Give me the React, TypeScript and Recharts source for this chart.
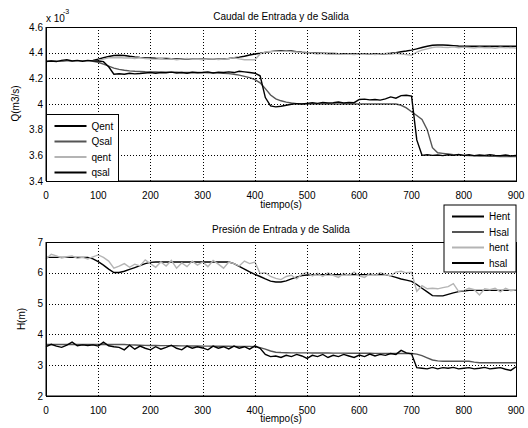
import React from "react";
import { LineChart, Line, XAxis, YAxis } from "recharts";

const tiempo = Array.from({ length: 91 }, (_, i) => i * 10);
const xTicks = [0, 100, 200, 300, 400, 500, 600, 700, 800, 900];
const qTicks = [3.4, 3.6, 3.8, 4, 4.2, 4.4, 4.6];
const hTicks = [2, 3, 4, 5, 6, 7];

// caudal, en unidades de 1e-3 m3/s
const Qent = [
  4.335, 4.335, 4.335, 4.335, 4.335, 4.335, 4.335, 4.335, 4.335, 4.34,
  4.35, 4.36, 4.37, 4.378, 4.38, 4.378, 4.372, 4.367, 4.363, 4.36,
  4.358, 4.356, 4.355, 4.354, 4.353, 4.352, 4.351, 4.35, 4.35, 4.35,
  4.35, 4.35, 4.35, 4.35, 4.352, 4.355, 4.36, 4.365, 4.372, 4.382,
  4.39, 4.395, 4.402, 4.408, 4.413, 4.415, 4.415, 4.413, 4.408, 4.403,
  4.4, 4.398, 4.396, 4.395, 4.394, 4.393, 4.392, 4.392, 4.391, 4.39,
  4.39, 4.39, 4.39, 4.39, 4.39, 4.392, 4.395, 4.4, 4.407, 4.413,
  4.42, 4.43, 4.44, 4.45, 4.458, 4.46, 4.46, 4.458, 4.455, 4.452,
  4.45, 4.45, 4.45, 4.45, 4.45, 4.45, 4.45, 4.45, 4.45, 4.45,
  4.45,
];
const Qsal = [
  4.335, 4.335, 4.335, 4.335, 4.335, 4.335, 4.335, 4.335, 4.335, 4.333,
  4.325, 4.31, 4.295, 4.28, 4.27, 4.263, 4.258, 4.255, 4.253, 4.251,
  4.25, 4.249, 4.248, 4.248, 4.247, 4.247, 4.246, 4.246, 4.245, 4.245,
  4.245, 4.244, 4.243, 4.242, 4.24, 4.237, 4.232, 4.225, 4.215, 4.205,
  4.19, 4.165, 4.12, 4.07, 4.04, 4.025, 4.015, 4.008, 4.003, 4.0,
  4.0, 4.0, 4.0, 4.0, 4.0, 4.0, 4.0, 4.0, 4.0, 4.0,
  4.0, 4.0, 4.0, 4.0, 4.0, 4.0, 4.0, 4.0, 3.99, 3.97,
  3.94, 3.91, 3.88, 3.8, 3.66, 3.62, 3.615, 3.61, 3.605, 3.603,
  3.6, 3.598, 3.596, 3.595, 3.594, 3.593, 3.592, 3.591, 3.59, 3.59,
  3.59,
];
const qent = [
  4.335, 4.332, 4.335, 4.34, 4.333, 4.337, 4.333, 4.336, 4.333, 4.335,
  4.34, 4.35, 4.36, 4.36, 4.362, 4.358, 4.36, 4.355, 4.36, 4.355,
  4.352, 4.35, 4.355, 4.348, 4.352, 4.345, 4.35, 4.355, 4.348, 4.35,
  4.345, 4.35, 4.352, 4.346, 4.35, 4.355, 4.36, 4.352, 4.345, 4.345,
  4.345, 4.39, 4.405, 4.41, 4.412, 4.41, 4.413, 4.408, 4.405, 4.4,
  4.398, 4.395, 4.39, 4.395, 4.39, 4.388, 4.392, 4.387, 4.39, 4.385,
  4.39, 4.387, 4.392, 4.385, 4.39, 4.393, 4.388, 4.395, 4.39, 4.385,
  4.38, 4.405, 4.42, 4.43, 4.44, 4.445, 4.442, 4.44, 4.445, 4.438,
  4.443, 4.44, 4.436, 4.442, 4.438, 4.44, 4.435, 4.442, 4.437, 4.44,
  4.435,
];
const qsal = [
  4.33, 4.335, 4.33, 4.34, 4.345, 4.335, 4.34, 4.333, 4.34, 4.335,
  4.335, 4.33, 4.29, 4.232, 4.236, 4.232, 4.24, 4.235, 4.238, 4.242,
  4.245, 4.24, 4.245, 4.243, 4.248, 4.242, 4.245, 4.24, 4.247, 4.243,
  4.245, 4.25, 4.242, 4.248, 4.245, 4.25, 4.245, 4.255, 4.25, 4.245,
  4.24, 4.22, 4.05, 3.985, 3.978, 3.982, 3.99, 3.998, 4.003, 4.0,
  4.005, 4.01, 4.005, 4.012, 4.008, 4.01, 4.015, 4.008, 4.012, 4.01,
  4.035, 4.038, 4.032, 4.035, 4.03, 4.04, 4.055, 4.045, 4.065, 4.068,
  4.062, 3.72, 3.6, 3.605, 3.6, 3.603, 3.598, 3.605, 3.6, 3.607,
  3.6, 3.605, 3.598, 3.603, 3.6, 3.605, 3.6, 3.598, 3.602, 3.596,
  3.6,
];

// presion (m)
const Hent = [
  6.5, 6.5, 6.5, 6.5, 6.5, 6.5, 6.5, 6.5, 6.5, 6.45,
  6.36, 6.25, 6.12, 6.01, 6.01, 6.05, 6.11, 6.17, 6.23, 6.3,
  6.34, 6.35, 6.35, 6.35, 6.35, 6.35, 6.35, 6.35, 6.35, 6.35,
  6.35, 6.35, 6.35, 6.35, 6.35, 6.35, 6.3, 6.21, 6.12, 6.03,
  5.95, 5.88, 5.8, 5.73, 5.7, 5.7, 5.74, 5.8, 5.86, 5.91,
  5.93, 5.94, 5.94, 5.94, 5.94, 5.94, 5.94, 5.94, 5.94, 5.94,
  5.94, 5.94, 5.94, 5.94, 5.94, 5.94, 5.9, 5.85, 5.8, 5.76,
  5.72, 5.62, 5.5, 5.38, 5.26, 5.25, 5.25, 5.3, 5.35, 5.39,
  5.41, 5.43, 5.43, 5.43, 5.43, 5.43, 5.43, 5.43, 5.43, 5.43,
  5.43,
];
const Hsal = [
  3.67, 3.67, 3.67, 3.67, 3.67, 3.67, 3.67, 3.67, 3.67, 3.67,
  3.67, 3.67, 3.67, 3.67, 3.67, 3.67, 3.66, 3.655, 3.65, 3.645,
  3.64, 3.638, 3.636, 3.634, 3.632, 3.63, 3.628, 3.626, 3.624, 3.622,
  3.62, 3.618, 3.616, 3.615, 3.614, 3.613, 3.612, 3.611, 3.61, 3.61,
  3.6, 3.57, 3.52, 3.46, 3.42, 3.41, 3.405, 3.4, 3.4, 3.4,
  3.4, 3.398, 3.396, 3.395, 3.394, 3.393, 3.392, 3.391, 3.39, 3.389,
  3.388, 3.387, 3.386, 3.385, 3.384, 3.383, 3.382, 3.381, 3.38, 3.38,
  3.38, 3.36, 3.31, 3.24, 3.17, 3.14, 3.13, 3.13, 3.13, 3.13,
  3.13, 3.13, 3.1, 3.08, 3.08, 3.08, 3.08, 3.08, 3.08, 3.08,
  3.08,
];
const hent = [
  6.45, 6.6, 6.55, 6.48, 6.52, 6.55, 6.47, 6.5, 6.45, 6.52,
  6.58, 6.5, 6.38, 6.15, 6.22, 6.3, 6.18, 6.28, 6.22, 6.42,
  6.3, 6.18, 6.35, 6.22, 6.4, 6.15, 6.32, 6.2, 6.38, 6.25,
  6.35, 6.2, 6.4, 6.28, 6.15, 6.35, 6.3, 6.22, 6.38, 6.3,
  6.35, 5.98, 6.0, 5.88, 5.82, 5.78, 5.88, 5.92, 5.8, 5.95,
  6.02, 5.9, 5.98, 5.88, 6.0, 5.92, 5.85, 5.98, 5.92, 6.02,
  5.9, 5.85, 5.98, 5.92, 6.0, 5.95, 5.9, 6.02, 6.05, 6.0,
  6.02, 5.4, 5.58, 5.48, 5.5, 5.48, 5.52, 5.55, 5.65, 5.4,
  5.42, 5.5, 5.45, 5.28, 5.48, 5.45, 5.5, 5.38, 5.5, 5.42,
  5.45,
];
const hsal = [
  3.6, 3.68, 3.62, 3.58, 3.65, 3.75, 3.63, 3.66, 3.64, 3.66,
  3.62, 3.75, 3.63, 3.6, 3.58, 3.5, 3.65, 3.52, 3.62, 3.55,
  3.5, 3.6, 3.52, 3.58, 3.65, 3.55, 3.5, 3.62, 3.55, 3.6,
  3.56, 3.5, 3.62, 3.55, 3.6, 3.53, 3.62, 3.55, 3.6, 3.52,
  3.63, 3.55, 3.35, 3.28, 3.3, 3.25, 3.32, 3.28, 3.35, 3.3,
  3.22, 3.32, 3.28, 3.35, 3.25, 3.32, 3.28, 3.35, 3.3, 3.25,
  3.33, 3.28, 3.36, 3.3, 3.35, 3.32, 3.38, 3.35, 3.48, 3.4,
  3.37, 2.92, 2.9, 2.88, 2.93, 2.88, 2.92, 2.9, 2.93, 2.88,
  2.9, 2.92, 2.88, 2.9, 2.93, 2.88, 2.9, 2.92, 2.87, 2.83,
  2.95,
];

const caudalData = tiempo.map((t, i) => ({ t, Qent: Qent[i], Qsal: Qsal[i], qent: qent[i], qsal: qsal[i] }));
const presionData = tiempo.map((t, i) => ({ t, Hent: Hent[i], Hsal: Hsal[i], hent: hent[i], hsal: hsal[i] }));

const NEGRO = "#000";
const GRIS = "#555";
const CLARO = "#b4b4b4";
const caudalSeries = [
  { key: "Qent", color: NEGRO },
  { key: "Qsal", color: GRIS },
  { key: "qent", color: CLARO },
  { key: "qsal", color: NEGRO },
];
const presionSeries = [
  { key: "Hent", color: NEGRO },
  { key: "Hsal", color: GRIS },
  { key: "hent", color: CLARO },
  { key: "hsal", color: NEGRO },
];

const FONT = '"Liberation Sans", Arial, sans-serif';
const tickStyle = { fill: "#000", fontSize: 10, fontFamily: FONT };
const W = 528;
const H = 214;
const LEFT = 46;
const RIGHT = 12;
const XAXIS_H = 20;
const panels = [
  { top: 0, marginTop: 27, marginBottom: 13, yTicks: qTicks },
  { top: 214, marginTop: 28, marginBottom: 12, yTicks: hTicks },
];

function Panel({ data, series, yTicks, top, marginTop, marginBottom }: any) {
  const yMin = yTicks[0];
  const yMax = yTicks[yTicks.length - 1];
  return (
    <div style={{ position: "absolute", left: 0, top }}>
      <LineChart width={W} height={H} data={data} margin={{ top: marginTop, right: RIGHT, bottom: marginBottom, left: 0 }}>
        <XAxis
          dataKey="t"
          type="number"
          domain={[0, 900]}
          ticks={xTicks}
          interval={0}
          height={XAXIS_H}
          tickLine={false}
          tickSize={8}
          tickMargin={3}
          tick={tickStyle}
          axisLine={{ stroke: "#000" }}
        />
        <YAxis
          type="number"
          domain={[yMin, yMax]}
          ticks={yTicks}
          interval={0}
          width={LEFT}
          tickLine={false}
          tickSize={2}
          tickMargin={1}
          tick={tickStyle}
          axisLine={{ stroke: "#000" }}
        />
        {series.map((s: any) => (
          <Line
            key={s.key}
            dataKey={s.key}
            type="linear"
            stroke={s.color}
            strokeWidth={1.4}
            dot={false}
            isAnimationActive={false}
          />
        ))}
      </LineChart>
    </div>
  );
}

// dotted grid + axes box, laid out with the same plot geometry as the charts
function GridLayer({ yTicks, top, marginTop, marginBottom }: any) {
  const yMin = yTicks[0];
  const yMax = yTicks[yTicks.length - 1];
  const plotW = W - LEFT - RIGHT;
  const plotH = H - marginTop - marginBottom - XAXIS_H;
  const y0 = top + marginTop;
  const sx = (t: number) => Math.round(LEFT + (t / 900) * plotW) + 0.5;
  const sy = (v: number) => Math.round(y0 + ((yMax - v) / (yMax - yMin)) * plotH) + 0.5;
  return (
    <g>
      {xTicks.slice(1, -1).map((t) => (
        <line key={"x" + t} x1={sx(t)} x2={sx(t)} y1={y0} y2={y0 + plotH} stroke="#000" strokeWidth={1} strokeDasharray="1 2" />
      ))}
      {yTicks.slice(1, -1).map((v: number) => (
        <line key={"y" + v} x1={LEFT} x2={LEFT + plotW} y1={sy(v)} y2={sy(v)} stroke="#000" strokeWidth={1} strokeDasharray="1 2" />
      ))}
      <rect x={LEFT + 0.5} y={y0 + 0.5} width={plotW} height={plotH} fill="none" stroke="#000" strokeWidth={1} />
    </g>
  );
}

function LegendBox({ x, y, series }: any) {
  return (
    <g>
      <rect x={x} y={y} width={72} height={67} fill="#fff" stroke="#000" strokeWidth={1} />
      {series.map((s: any, i: number) => {
        const cy = y + 11.5 + i * 15.5;
        return (
          <g key={s.key}>
            <line x1={x + 8} x2={x + 40} y1={cy} y2={cy} stroke={s.color} strokeWidth={2} />
            <text x={x + 45} y={cy + 3.5} fontSize={10} fontFamily={FONT} fill="#000">
              {s.key}
            </text>
          </g>
        );
      })}
    </g>
  );
}

export default function App() {
  return (
    <div style={{ position: "absolute", left: 0, top: 0, width: 528, height: 428, background: "#fff", fontFamily: FONT }}>
      <Panel data={caudalData} series={caudalSeries} {...panels[0]} />
      <Panel data={presionData} series={presionSeries} {...panels[1]} />
      <svg width={528} height={428} style={{ position: "absolute", left: 0, top: 0, pointerEvents: "none" }}>
        {panels.map((p) => (
          <GridLayer key={p.top} {...p} />
        ))}
        <g fontFamily={FONT} fontSize={10} fill="#000">
          <text x={281} y={19.5} textAnchor="middle">Caudal de Entrada y de Salida</text>
          <text x={46} y={21.5}>x 10</text>
          <text x={63} y={13.5} fontSize={7}>-3</text>
          <text x={18.5} y={103.5} textAnchor="middle" transform="rotate(-90 18.5 103.5)">Q(m3/s)</text>
          <text x={281} y={207.5} textAnchor="middle">tiempo(s)</text>
          <text x={281} y={232.5} textAnchor="middle">Presión de Entrada y de Salida</text>
          <text x={25} y={319} textAnchor="middle" transform="rotate(-90 25 319)">H(m)</text>
          <text x={281} y={421.5} textAnchor="middle">tiempo(s)</text>
        </g>
        <LegendBox x={46.5} y={114.5} series={caudalSeries} />
        <LegendBox x={444} y={205} series={presionSeries} />
      </svg>
    </div>
  );
}
